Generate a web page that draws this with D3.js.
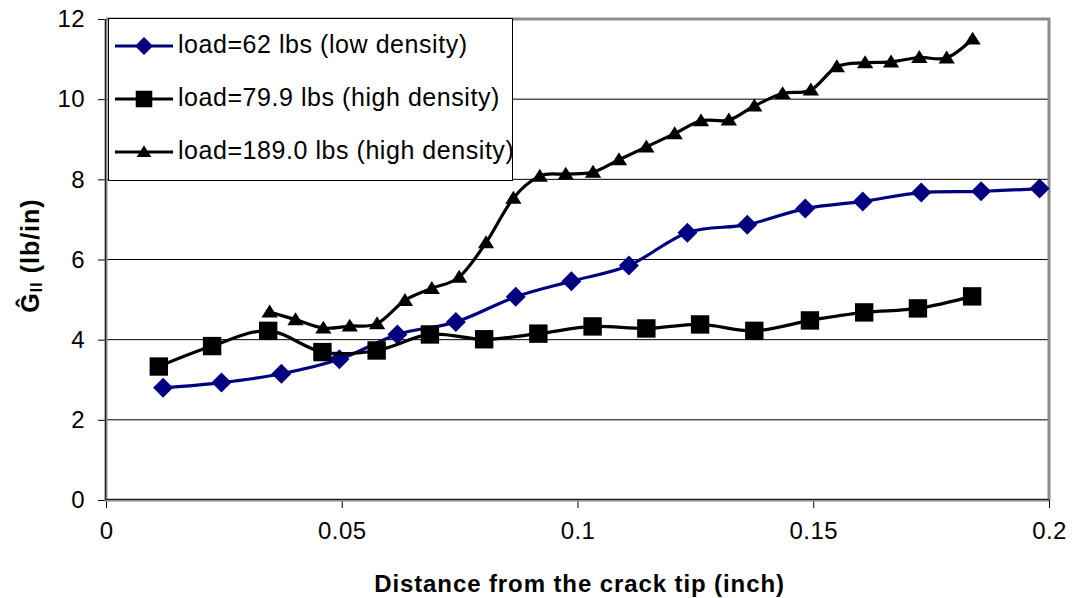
<!DOCTYPE html>
<html>
<head>
<meta charset="utf-8">
<script src="https://cdn.jsdelivr.net/npm/d3@7/dist/d3.min.js"></script>
<style>
	body { margin: 0; background: #fff; }
	text { font-family: Arial, "Liberation Sans", sans-serif; fill: #000; }
</style>
</head>
<body>
<svg id="chart" width="1080" height="598"></svg>
<script>

// series
var lowDensityX = [0.0121, 0.0245, 0.0372, 0.0495, 0.0618, 0.0742, 0.0869, 0.0987, 0.1109, 0.1233, 0.1360, 0.1483, 0.1605, 0.1729, 0.1856, 0.1980];
var lowDensityY = [2.80, 2.93, 3.15, 3.51, 4.13, 4.44, 5.07, 5.46, 5.85, 6.67, 6.87, 7.27, 7.45, 7.67, 7.70, 7.77];

var highDensityX = [0.0112, 0.0225, 0.0344, 0.0459, 0.0574, 0.0687, 0.0802, 0.0917, 0.1032, 0.1146, 0.1260, 0.1375, 0.1493, 0.1608, 0.1722, 0.1837];
var highDensityY = [3.33, 3.84, 4.22, 3.69, 3.73, 4.13, 4.01, 4.15, 4.33, 4.28, 4.38, 4.22, 4.48, 4.68, 4.78, 5.08];

var heavyLoadX = [0.0347, 0.0402, 0.0461, 0.0517, 0.0575, 0.0634, 0.0691, 0.0749, 0.0806, 0.0864, 0.0920, 0.0975, 0.1033, 0.1088, 0.1146, 0.1206, 0.1262, 0.1321, 0.1375, 0.1435, 0.1495, 0.1550, 0.1610, 0.1665, 0.1725, 0.1783, 0.1838];
var heavyLoadY = [4.69, 4.50, 4.29, 4.34, 4.40, 4.98, 5.28, 5.56, 6.42, 7.53, 8.08, 8.13, 8.18, 8.49, 8.81, 9.14, 9.46, 9.48, 9.83, 10.14, 10.23, 10.81, 10.91, 10.93, 11.04, 11.03, 11.50];

var legendLabels = ["load=62 lbs (low density)", "load=79.9 lbs (high density)", "load=189.0 lbs (high density)"];
var xTicks = [0, 0.05, 0.1, 0.15, 0.2];
var yTicks = [0, 2, 4, 6, 8, 10, 12];

var config = {
	width: 1080,
	height: 598,
	left: 106,
	right: 1049,
	top: 19,
	bottom: 500
};

var svg = d3.select("#chart");

var x = d3.scaleLinear().domain([0, 0.2]).range([config.left, config.right]);
var y = d3.scaleLinear().domain([0, 12]).range([config.bottom, config.top]);

// marker shapes, centred on 0,0
var markers = {
	diamond: function(s) { return "M0," + (-s) + "L" + s + ",0L0," + s + "L" + (-s) + ",0Z"; },
	square: function(s) { return "M" + (-s) + "," + (-s) + "H" + s + "V" + s + "H" + (-s) + "Z"; },
	triangle: function(s) { return "M0," + (-s) + "L" + (s * 1.1) + "," + (s * 0.75) + "L" + (-s * 1.1) + "," + (s * 0.75) + "Z"; }
};

var series = [
	{ xs: lowDensityX, ys: lowDensityY, color: "#000080", marker: "diamond", size: 10 },
	{ xs: highDensityX, ys: highDensityY, color: "#000000", marker: "square", size: 9.2 },
	{ xs: heavyLoadX, ys: heavyLoadY, color: "#000000", marker: "triangle", size: 7.4 }
];

// gridlines
svg.append("g")
	.selectAll("line")
	.data(yTicks.filter(function(d) { return d > 0 && d < 12; }))
	.enter()
	.append("line")
	.attr("x1", config.left)
	.attr("x2", config.right)
	.attr("y1", function(d) { return y(d); })
	.attr("y2", function(d) { return y(d); })
	.attr("stroke", "#000")
	.attr("stroke-width", 1);

// plot frame: grey top / right
svg.append("path")
	.attr("d", "M" + config.left + "," + config.top + "H" + config.right + "V" + config.bottom)
	.attr("fill", "none")
	.attr("stroke", "#8c8c8c")
	.attr("stroke-width", 3);

// axes
var xAxis = d3.axisBottom(x).tickValues(xTicks).tickSize(8).tickPadding(14)
	.tickFormat(function(d) { return d === 0 ? "0" : String(d); });
var yAxis = d3.axisLeft(y).tickValues(yTicks).tickSize(8).tickPadding(13)
	.tickFormat(d3.format("d"));

var gx = svg.append("g")
	.attr("transform", "translate(0," + config.bottom + ")")
	.call(xAxis);
var gy = svg.append("g")
	.attr("transform", "translate(" + config.left + ",0)")
	.call(yAxis);

[gx, gy].forEach(function(g) {
	g.select(".domain").remove();
	g.selectAll(".tick line").attr("stroke", "#000").attr("stroke-width", 1);
	g.selectAll(".tick text")
		.attr("font-size", 24)
		.attr("letter-spacing", 0.4)
		.attr("font-family", "Arial, 'Liberation Sans', sans-serif")
		.attr("fill", "#000");
});
gx.selectAll(".tick text").attr("dy", "0.72em");

// axis lines, dark with a grey edge
svg.append("path")
	.attr("d", "M" + config.left + "," + config.top + "V" + config.bottom + "H" + config.right)
	.attr("fill", "none")
	.attr("stroke", "#8c8c8c")
	.attr("stroke-width", 3);
svg.append("path")
	.attr("d", "M" + (config.left - 0.5) + "," + config.top + "V" + (config.bottom - 0.5) + "H" + config.right)
	.attr("fill", "none")
	.attr("stroke", "#222")
	.attr("stroke-width", 1.2);

// smoothed series lines and markers
var line = d3.line()
	.x(function(d) { return x(d[0]); })
	.y(function(d) { return y(d[1]); })
	.curve(d3.curveCardinal.tension(0));

series.forEach(function(s) {
	var pts = s.xs.map(function(v, i) { return [v, s.ys[i]]; });
	var g = svg.append("g");
	g.append("path")
		.datum(pts)
		.attr("d", line)
		.attr("fill", "none")
		.attr("stroke", s.color)
		.attr("stroke-width", 3.2);
	g.selectAll("path.marker")
		.data(pts)
		.enter()
		.append("path")
		.attr("class", "marker")
		.attr("transform", function(d) { return "translate(" + x(d[0]) + "," + y(d[1]) + ")"; })
		.attr("d", markers[s.marker](s.size))
		.attr("fill", s.color);
});

// legend
var legend = svg.append("g");
legend.append("rect")
	.attr("x", 108.5)
	.attr("y", 18.5)
	.attr("width", 404)
	.attr("height", 162)
	.attr("fill", "#fff")
	.attr("stroke", "#000")
	.attr("stroke-width", 1);

var rows = legend.selectAll("g.item")
	.data(series)
	.enter()
	.append("g")
	.attr("class", "item")
	.attr("transform", function(d, i) { return "translate(115," + (46 + i * 53) + ")"; });
rows.append("line")
	.attr("x1", 0)
	.attr("x2", 58)
	.attr("stroke", function(d) { return d.color; })
	.attr("stroke-width", 3.2);
rows.append("path")
	.attr("transform", "translate(29,0)")
	.attr("d", function(d) { return markers[d.marker](d.size * 0.9); })
	.attr("fill", function(d) { return d.color; });
rows.append("text")
	.attr("x", 63)
	.attr("y", 7)
	.attr("font-size", 25)
	.attr("letter-spacing", 0.55)
	.text(function(d, i) { return legendLabels[i]; });

// axis titles
svg.append("text")
	.attr("x", (config.left + config.right) / 2 + 2)
	.attr("y", 592)
	.attr("text-anchor", "middle")
	.attr("font-size", 24)
	.attr("font-weight", "bold")
	.attr("letter-spacing", 0.9)
	.text("Distance from the crack tip (inch)");

var yTitle = svg.append("text")
	.attr("transform", "translate(39," + ((config.top + config.bottom) / 2 - 4) + ") rotate(-90)")
	.attr("text-anchor", "middle")
	.attr("font-size", 25)
	.attr("font-weight", "bold")
	.attr("letter-spacing", 1);
yTitle.append("tspan").text("Ĝ");
yTitle.append("tspan").attr("font-size", 16).attr("dy", 3).text("II");
yTitle.append("tspan").attr("dy", -3).text(" (lb/in)");

</script>
</body>
</html>
